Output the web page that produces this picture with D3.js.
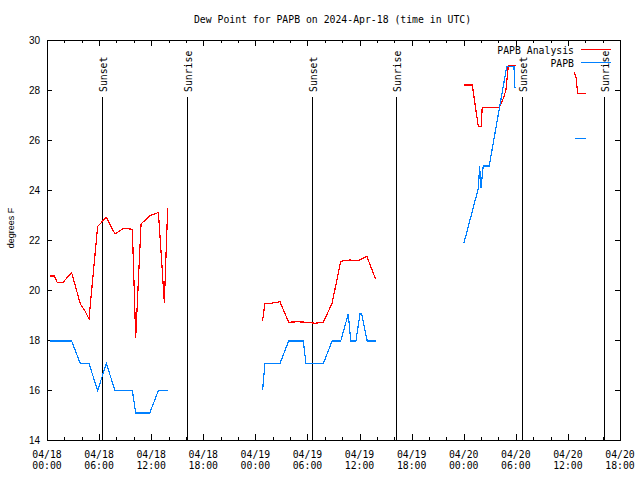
<!DOCTYPE html>
<html><head><meta charset="utf-8">
<script src="https://cdn.jsdelivr.net/npm/d3@7"></script>
<style>body{margin:0;background:#fff}</style>
</head><body><svg id="c" width="640" height="480"></svg>
<script>
const titleText = "Dew Point for PAPB on 2024-Apr-18 (time in UTC)";
const yLabel = "degrees F";
const yTicks = [14,16,18,20,22,24,26,28,30];
const xDomain = ["04/18 00:00","04/20 18:00"];
const seriesNames = ["PAPB Analysis","PAPB"];
const seriesColors = ["#ff0000","#0080ff"];

const analysisTimes = [
 "04/18 00:21","04/18 00:50","04/18 01:11","04/18 01:50","04/18 02:50","04/18 03:50","04/18 04:23","04/18 04:50",
 "04/18 05:50","04/18 06:50","04/18 07:50","04/18 08:50","04/18 09:50","04/18 10:13","04/18 10:50","04/18 11:50",
 "04/18 12:50","04/18 13:31","04/18 13:54","04/18 18:00",
 "04/19 00:50","04/19 01:06","04/19 01:50","04/19 02:50","04/19 03:50","04/19 04:50","04/19 05:50","04/19 06:50",
 "04/19 07:50","04/19 08:50","04/19 09:50","04/19 10:50","04/19 11:50","04/19 12:50","04/19 13:50","04/19 18:00",
 "04/20 00:02","04/20 00:59","04/20 01:41","04/20 02:00","04/20 02:08","04/20 04:06","04/20 04:34","04/20 04:52",
 "04/20 05:08","04/20 06:01","04/20 09:00",
 "04/20 12:44","04/20 12:56","04/20 13:08","04/20 14:03"];
const analysisValues = [
 20.56,20.56,20.30,20.30,20.70,19.45,19.16,18.84,
 22.55,22.90,22.24,22.47,22.43,18.10,22.64,22.97,
 23.10,19.50,23.27,null,
 18.77,19.47,19.47,19.53,18.71,18.73,18.71,18.67,
 18.71,19.47,21.15,21.20,21.17,21.35,20.45,null,
 28.20,28.20,26.53,26.53,27.31,27.31,27.67,28.00,
 28.97,28.97,null,
 28.70,28.50,27.87,27.87];

const papbTimes = [
 "04/18 00:21","04/18 00:50","04/18 01:50","04/18 02:50","04/18 03:50","04/18 04:50","04/18 05:50","04/18 06:50",
 "04/18 07:50","04/18 08:50","04/18 09:50","04/18 10:13","04/18 10:50","04/18 11:50","04/18 12:50","04/18 13:54",
 "04/18 18:00",
 "04/19 00:50","04/19 01:06","04/19 01:50","04/19 02:50","04/19 03:50","04/19 04:50","04/19 05:31","04/19 05:50",
 "04/19 06:50","04/19 07:50","04/19 08:50","04/19 09:50","04/19 10:42","04/19 10:59","04/19 11:35","04/19 12:03",
 "04/19 12:15","04/19 12:53","04/19 13:54","04/19 18:00",
 "04/20 00:02","04/20 01:41","04/20 01:50","04/20 01:59","04/20 02:15","04/20 02:56","04/20 04:57","04/20 05:47",
 "04/20 05:54","04/20 09:00",
 "04/20 12:49","04/20 14:03"];
const papbValues = [
 17.96,17.96,17.96,17.96,17.06,17.06,15.98,17.06,
 15.98,15.98,15.98,15.08,15.08,15.08,15.98,15.98,
 null,
 15.98,17.06,17.06,17.06,17.96,17.96,17.96,17.06,
 17.06,17.06,17.96,17.96,19.04,17.96,17.96,19.04,
 19.04,17.96,17.96,null,
 21.89,24.07,24.96,24.07,24.96,24.96,28.93,28.93,
 28.07,null,
 26.07,26.07];

const sunTimes = ["04/18 06:22","04/18 16:06","04/19 06:29","04/19 16:12","04/20 06:41","04/20 16:11"];
const sunLabels = ["Sunset","Sunrise","Sunset","Sunrise","Sunset","Sunrise"];

const parse = s => d3.utcParse("%Y/%m/%d %H:%M")("2024/" + s);
const mono = "'DejaVu Sans Mono', monospace";
const sans = "'Liberation Sans', Arial, sans-serif";
const L = 47, R = 620, T = 40, B = 440;

const svg = d3.select("#c");
svg.append("rect").attr("width",640).attr("height",480).attr("fill","#fff");

const x = d3.scaleUtc().domain(xDomain.map(parse)).range([L, R]);
const y = d3.scaleLinear().domain([14,30]).range([B, T]);
const px = v => Math.round(v) + 0.5;

const g = svg.append("g").attr("shape-rendering","crispEdges");

// minor and major x ticks (top and bottom)
const minor = d3.utcHour.every(2).range(x.domain()[0], d3.utcMinute.offset(x.domain()[1],1));
minor.forEach(d => {
  const isMajor = d.getUTCHours() % 6 === 0;
  const len = isMajor ? 6 : 3;
  const xx = px(x(d));
  g.append("line").attr("x1",xx).attr("x2",xx).attr("y1",B).attr("y2",B-len).attr("stroke","#000");
  g.append("line").attr("x1",xx).attr("x2",xx).attr("y1",T).attr("y2",T+len).attr("stroke","#000");
});
// y ticks left/right
yTicks.forEach(v => {
  const yy = px(y(v));
  g.append("line").attr("x1",L).attr("x2",L+5).attr("y1",yy).attr("y2",yy).attr("stroke","#000");
  g.append("line").attr("x1",R).attr("x2",R-5).attr("y1",yy).attr("y2",yy).attr("stroke","#000");
  svg.append("text").attr("x",40).attr("y",y(v)+4).attr("text-anchor","end")
    .attr("font-family",sans).attr("font-size",10).text(v);
});
// x tick labels
const fmtD = d3.utcFormat("%m/%d"), fmtH = d3.utcFormat("%H:%M");
d3.utcHour.every(6).range(x.domain()[0], d3.utcMinute.offset(x.domain()[1],1)).forEach(d => {
  const t = svg.append("text").attr("text-anchor","middle").attr("font-family",mono).attr("font-size",9.8);
  t.append("tspan").attr("x",x(d)).attr("y",458).text(fmtD(d));
  t.append("tspan").attr("x",x(d)).attr("y",469).text(fmtH(d));
});

// sun lines
sunTimes.forEach((s,i) => {
  const xx = px(x(parse(s)));
  g.append("line").attr("x1",xx).attr("x2",xx).attr("y1",B).attr("y2",97).attr("stroke","#000");
  svg.append("text").attr("transform",`translate(${xx+4.5},92) rotate(-90)`)
    .attr("text-anchor","start").attr("font-family",mono).attr("font-size",9.8).text(sunLabels[i]);
});

// frame
g.append("rect").attr("x",L+0.5).attr("y",T+0.5).attr("width",R-L).attr("height",B-T)
  .attr("fill","none").attr("stroke","#000");

// series
const line = d3.line().defined(d => d.v !== null).x(d => x(d.t)).y(d => y(d.v));
const series = [
  analysisTimes.map((t,i) => ({t: parse(t), v: analysisValues[i]})),
  papbTimes.map((t,i) => ({t: parse(t), v: papbValues[i]}))
];
series.forEach((s,i) => {
  svg.append("path").attr("d", line(s)).attr("fill","none").attr("stroke",seriesColors[i])
    .attr("stroke-width",1.2).attr("shape-rendering","crispEdges");
});

// legend
seriesNames.forEach((n,i) => {
  const yy = i === 0 ? 49.5 : 62.5;
  svg.append("text").attr("x",574).attr("y",yy+4.5).attr("text-anchor","end")
    .attr("font-family",mono).attr("font-size",9.8).text(n);
  g.append("line").attr("x1",581).attr("x2",611).attr("y1",yy).attr("y2",yy)
    .attr("stroke",seriesColors[i]).attr("stroke-width",1);
});

// title & y label
svg.append("text").attr("x",332.5).attr("y",23).attr("text-anchor","middle")
  .attr("font-family",mono).attr("font-size",9.8).text(titleText);
svg.append("text").attr("transform","translate(14,228) rotate(-90)").attr("text-anchor","middle")
  .attr("font-family",sans).attr("font-size",9).text(yLabel);
</script></body></html>
